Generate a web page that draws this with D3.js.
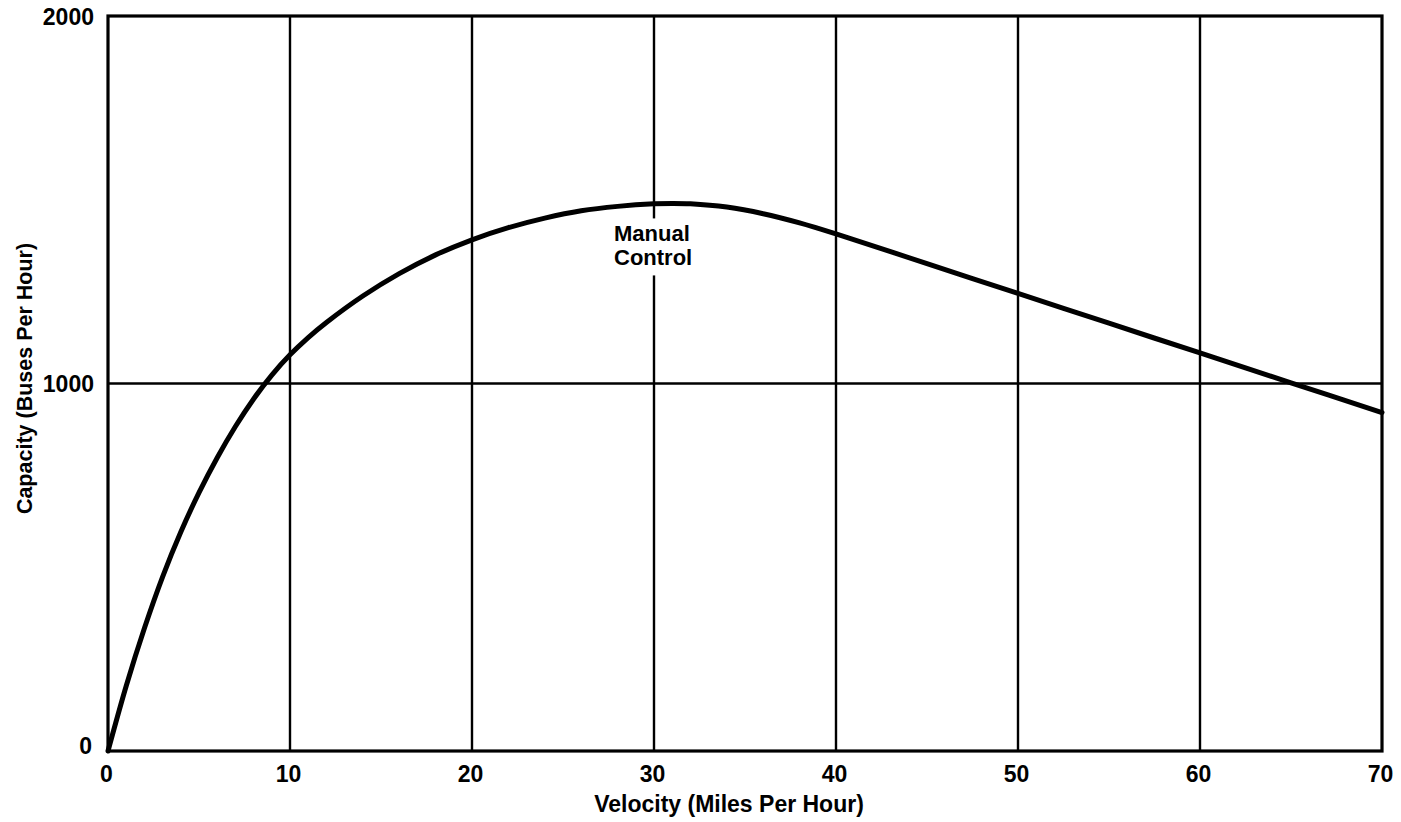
<!DOCTYPE html>
<html>
<head>
<meta charset="utf-8">
<script src="https://cdn.jsdelivr.net/npm/d3@7/dist/d3.min.js"></script>
<style>
  html, body { margin: 0; padding: 0; background: #fff; }
  svg { display: block; }
  text { font-family: "Liberation Sans", Arial, Helvetica, sans-serif; font-weight: bold; fill: #000; }
</style>
</head>
<body>
<svg id="chart" width="1401" height="822"></svg>
<script>
// ---- data ----
const velocity = [0, 1, 2, 3, 4, 5, 6, 7, 8, 9, 10, 11, 12, 14, 16, 18, 20, 22, 24, 26, 28, 30, 31, 32, 34, 36, 38, 40, 45, 50, 55, 60, 65, 70];
const capacity = [0, 177, 334, 474, 596, 703, 798, 883, 958, 1023, 1078, 1125, 1166, 1238, 1299, 1350, 1391, 1424, 1450, 1470, 1482, 1489, 1490, 1489, 1480, 1462, 1437, 1407, 1326, 1245, 1164, 1083, 1002, 921];
const xTicks = [0, 10, 20, 30, 40, 50, 60, 70];
const yTicks = [0, 1000, 2000];
const xTitle = "Velocity (Miles Per Hour)";
const yTitle = "Capacity (Buses Per Hour)";
const annotation = { x: 30, y: 1490, lines: ["Manual", "Control"] };

// ---- layout ----
const W = 1401, H = 822;
const margin = { top: 16, right: 19, bottom: 71, left: 108 };
const svg = d3.select("#chart");

const x = d3.scaleLinear().domain([0, 70]).range([margin.left, W - margin.right]);
const y = d3.scaleLinear().domain([0, 2000]).range([H - margin.bottom, margin.top]);

// gridlines
const grid = svg.append("g");
grid.selectAll("line.vx").data(xTicks.filter(d => d > 0 && d < 70)).join("line")
  .attr("x1", d => x(d)).attr("x2", d => x(d))
  .attr("y1", y(0)).attr("y2", y(2000))
  .attr("stroke", "#000").attr("stroke-width", 2.4);
grid.selectAll("line.hy").data(yTicks.filter(d => d > 0 && d < 2000)).join("line")
  .attr("x1", x(0)).attr("x2", x(70))
  .attr("y1", d => y(d)).attr("y2", d => y(d))
  .attr("stroke", "#000").attr("stroke-width", 2.4);

// annotation background (breaks gridline)
const annG = svg.append("g");
const annText = annG.append("text")
  .attr("x", x(annotation.x) - 40)
  .attr("y", y(annotation.y) + 38)
  .attr("font-size", 22);
annotation.lines.forEach((t, i) => {
  annText.append("tspan").attr("x", x(annotation.x) - 40).attr("dy", i === 0 ? 0 : 24).text(t);
});
const bb = annText.node().getBBox();
annG.insert("rect", "text")
  .attr("x", bb.x - 2).attr("y", bb.y - 3)
  .attr("width", bb.width + 4).attr("height", bb.height + 8)
  .attr("fill", "#fff");

// frame
svg.append("rect")
  .attr("x", x(0)).attr("y", y(2000))
  .attr("width", x(70) - x(0)).attr("height", y(0) - y(2000))
  .attr("fill", "none").attr("stroke", "#000").attr("stroke-width", 3.2);

// curve
const pts = velocity.map((v, i) => [v, capacity[i]]);
const line = d3.line().x(d => x(d[0])).y(d => y(d[1])).curve(d3.curveCatmullRom.alpha(0.5));
svg.append("path").datum(pts)
  .attr("d", line)
  .attr("fill", "none").attr("stroke", "#000").attr("stroke-width", 5)
  .attr("stroke-linejoin", "round").attr("stroke-linecap", "round");

// axes (labels only)
const xAxis = d3.axisBottom(x).tickValues(xTicks).tickSize(0).tickPadding(0).tickFormat(d3.format("d"));
const gx = svg.append("g").attr("transform", `translate(0,${y(0)})`).call(xAxis);
gx.select(".domain").remove();
gx.selectAll("text").attr("font-size", 23).attr("font-family", null).attr("dy", null).attr("y", 31).attr("dx", -2).attr("fill", "#000");

const yAxis = d3.axisLeft(y).tickValues(yTicks).tickSize(0).tickPadding(0).tickFormat(d3.format("d"));
const gy = svg.append("g").attr("transform", `translate(${x(0)},0)`).call(yAxis);
gy.select(".domain").remove();
gy.selectAll("text").attr("font-size", 23).attr("font-family", null).attr("x", -14).attr("dy", "0.36em").attr("fill", "#000");
gy.selectAll(".tick").filter(d => d === 0).select("text").attr("x", -16).attr("dy", "0.1em");

// titles
svg.append("text")
  .attr("x", 729).attr("y", 812)
  .attr("text-anchor", "middle").attr("font-size", 23)
  .text(xTitle);
svg.append("text")
  .attr("transform", `translate(32,${y(1000) - 5}) rotate(-90)`)
  .attr("text-anchor", "middle").attr("font-size", 21.5)
  .text(yTitle);
</script>
</body>
</html>
